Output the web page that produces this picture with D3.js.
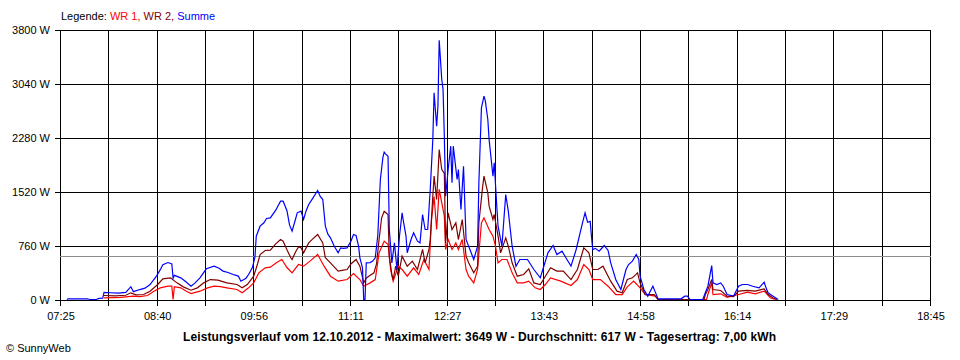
<!DOCTYPE html>
<html><head><meta charset="utf-8">
<script src="https://cdn.jsdelivr.net/npm/d3@7"></script>
<style>
body{margin:0;background:#fff;}
svg{display:block;}
text{font-family:Arial,"Liberation Sans",sans-serif;font-size:11px;fill:#000;}
</style>
</head><body>
<svg id="chart" width="960" height="360"></svg>
<script>
// ---- data ----
const dayStart = "07:25", dayEnd = "18:45";
const xTickLabels = ["07:25","08:40","09:56","11:11","12:27","13:43","14:58","16:14","17:29","18:45"];
const yTickValues = [0, 760, 1520, 2280, 3040, 3800];
const seriesNames = ["WR 1", "WR 2", "Summe"];
const average = 617;
const maxValue = 3649;
const dayYield = "7,00";
const dateLabel = "12.10.2012";

const summeTime = [
"07:30","07:31","07:46","07:48","07:53","07:55","07:58","07:59","08:04","08:10",
"08:16","08:20","08:22","08:27","08:31","08:35","08:40","08:43","08:45","08:49",
"08:52","08:53","08:54","08:59","09:03","09:07","09:10","09:14","09:19","09:25",
"09:29","09:32","09:36","09:40","09:44","09:46","09:50","09:52","09:55","09:57",
"09:58","10:01","10:04","10:06","10:09","10:13","10:17","10:19","10:22","10:24",
"10:26","10:29","10:30","10:33","10:35","10:37","10:39","10:42","10:46","10:48",
"10:50","10:52","10:54","10:56","10:59","11:02","11:04","11:06","11:09","11:12",
"11:14","11:16","11:18","11:19","11:21","11:22","11:23","11:24","11:27","11:29",
"11:31","11:33","11:35","11:37","11:38","11:39","11:41","11:42","11:44","11:46",
"11:48","11:50","11:52","11:53","11:55","11:56","11:59","12:01","12:04","12:06",
"12:08","12:10","12:12","12:14","12:16","12:17","12:19","12:20","12:21","12:23",
"12:24","12:25","12:26","12:28","12:30","12:31","12:32","12:35","12:36","12:38",
"12:40","12:42","12:43","12:45","12:48","12:51","12:52","12:54","12:56","12:57",
"12:59","13:00","13:03","13:04","13:06","13:07","13:10","13:13","13:15","13:18",
"13:21","13:24","13:30","13:35","13:40","13:42","13:46","13:50","13:53","13:57",
"14:00","14:04","14:08","14:13","14:15","14:17","14:19","14:20","14:21","14:23",
"14:26","14:27","14:30","14:33","14:35","14:39","14:43","14:47","14:49","14:52",
"14:55","14:57","14:58","15:01","15:04","15:08","15:10","15:12","15:22","15:30",
"15:33","15:35","15:37","15:47","15:49","15:51","15:54","15:55","15:58","16:01",
"16:03","16:06","16:11","16:15","16:18","16:22","16:26","16:31","16:35","16:36",
"16:38","16:42","16:46"];
const summeValue = [
0,10,10,0,0,15,20,100,95,90,
100,180,110,140,160,210,330,420,490,520,
500,300,340,305,250,187,230,305,432,470,
440,400,380,352,330,258,300,352,450,600,
891,1032,1080,1140,1149,1250,1384,1384,1250,1050,
961,1150,1220,1243,1126,1250,1337,1420,1534,1450,
1407,1032,920,868,750,657,727,720,727,820,
915,900,750,587,450,0,0,516,520,540,
587,900,1689,2000,2073,2050,2017,985,516,797,
422,900,1220,1102,900,657,844,938,821,797,
1196,985,985,1548,2252,2909,2439,2721,3649,3096,
2955,2299,1454,1830,2158,1642,2158,1689,1830,1267,
1876,844,797,704,563,750,1642,2698,2862,2800,
2533,2252,1736,1924,1314,1032,750,1478,1243,750,
469,563,563,422,305,422,657,760,633,680,
587,469,700,1079,1220,1088,1100,891,700,720,
680,700,760,690,520,281,141,422,492,540,
633,563,328,141,47,187,100,10,10,10,
47,47,0,0,94,187,478,234,211,234,
187,70,47,187,211,211,187,164,244,187,
94,47,0];

const wr2Time = [
"07:59","08:08","08:16","08:20","08:24","08:30","08:35","08:41","08:45","08:51",
"08:56","09:01","09:07","09:12","09:17","09:22","09:28","09:35","09:43","09:47",
"09:51","09:56","09:59","10:01","10:05","10:09","10:13","10:17","10:19","10:22",
"10:25","10:26","10:29","10:31","10:33","10:35","10:39","10:42","10:46","10:50",
"10:52","10:56","11:02","11:05","11:09","11:12","11:16","11:19","11:22","11:24",
"11:26","11:30","11:32","11:34","11:36","11:38","11:41","11:42","11:44","11:45",
"11:47","11:49","11:52","11:56","12:00","12:04","12:08","12:10","12:13","12:14",
"12:16","12:17","12:19","12:21","12:23","12:25","12:26","12:28","12:31","12:34",
"12:36","12:39","12:42","12:44","12:48","12:51","12:52","12:55","12:56","12:59",
"13:00","13:03","13:04","13:07","13:09","13:13","13:15","13:18","13:22","13:27",
"13:31","13:35","13:40","13:44","13:48","13:53","13:58","14:04","14:09","14:14",
"14:18","14:21","14:25","14:29","14:35","14:40","14:44","14:48","14:52","14:56",
"14:58","15:02","15:09","15:12","15:48","15:49","15:51","15:54","15:55","16:01",
"16:06","16:11","16:15","16:22","16:28","16:35","16:38","16:42","16:45"];
const wr2Value = [
56,50,60,94,65,70,117,211,291,305,
234,178,131,164,234,281,272,234,211,164,
211,328,500,633,690,694,780,844,821,700,
587,563,680,741,730,657,797,850,915,797,
587,516,399,410,422,500,563,469,234,300,
328,375,500,844,1150,1243,1196,610,350,281,
469,328,610,469,540,422,704,516,704,844,
1454,1736,1407,2111,1830,1776,797,1220,985,1079,
844,1126,610,516,375,469,1079,1595,1736,1501,
1314,1126,1196,891,657,868,750,516,328,352,
432,234,211,328,446,399,399,281,422,727,
657,422,422,469,258,117,94,281,305,375,
234,70,70,0,0,70,141,281,141,127,
47,40,117,127,117,150,70,20,0];

const wr1Time = [
"07:59","08:12","08:22","08:27","08:33","08:38","08:43","08:49","08:52","08:53",
"08:54","08:59","09:03","09:07","09:14","09:20","09:25","09:30","09:35","09:43",
"09:47","09:52","09:56","10:00","10:05","10:09","10:14","10:18","10:22","10:26",
"10:31","10:35","10:40","10:46","10:51","10:56","11:02","11:09","11:14","11:19",
"11:22","11:27","11:31","11:34","11:38","11:41","11:43","11:45","11:49","11:52",
"11:56","12:01","12:05","12:09","12:13","12:15","12:17","12:19","12:21","12:25",
"12:26","12:28","12:31","12:34","12:36","12:39","12:42","12:44","12:48","12:51",
"12:54","12:56","13:00","13:03","13:05","13:07","13:10","13:14","13:18","13:22",
"13:27","13:31","13:36","13:40","13:44","13:48","13:56","14:04","14:09","14:14",
"14:18","14:21","14:27","14:33","14:39","14:44","14:48","14:53","14:58","15:02",
"15:10","15:12","15:50","15:51","15:54","15:55","16:01","16:06","16:15","16:22",
"16:28","16:35","16:40","16:44"];
const wr1Value = [
23,30,47,40,56,117,164,187,187,0,
180,164,120,84,117,164,187,180,164,141,
94,164,234,375,446,455,520,563,450,375,
492,469,540,633,469,328,258,281,366,281,
187,234,281,657,821,774,422,258,469,422,
328,446,352,563,422,1126,1450,985,1550,1173,
704,844,704,797,704,844,422,328,234,422,
1079,1149,985,891,750,516,563,563,375,234,
234,258,164,141,211,305,258,197,281,492,
422,281,281,187,70,70,178,258,164,70,
47,0,0,70,234,70,80,30,70,103,
80,117,20,0];

// ---- drawing ----
const parseT = s => { const [h, m] = s.split(":").map(Number); return h * 60 + m; };
const svg = d3.select("#chart");
const x = d3.scaleLinear().domain([parseT(dayStart), parseT(dayEnd)]).range([60, 930]);
const y = d3.scaleLinear().domain([0, 3800]).range([300, 30]);
const crisp = v => Math.round(v) + 0.5;

const t0 = parseT(dayStart), t1 = parseT(dayEnd);
const gridTimes = d3.range(19).map(i => t0 + i * (t1 - t0) / 18);

// vertical grid
svg.append("g").selectAll("line").data(gridTimes).join("line")
  .attr("x1", d => crisp(x(d))).attr("x2", d => crisp(x(d)))
  .attr("y1", 30).attr("y2", 306)
  .attr("stroke", "#000").attr("shape-rendering", "crispEdges");

// horizontal grid
svg.append("g").selectAll("line").data(yTickValues).join("line")
  .attr("x1", 55).attr("x2", 931)
  .attr("y1", d => crisp(y(d))).attr("y2", d => crisp(y(d)))
  .attr("stroke", "#000").attr("shape-rendering", "crispEdges");

// y labels
svg.append("g").selectAll("text").data(yTickValues).join("text")
  .attr("x", 50).attr("y", d => y(d)).attr("dy", "0.35em")
  .attr("text-anchor", "end").text(d => d + " W");

// x labels
svg.append("g").selectAll("text").data(xTickLabels).join("text")
  .attr("x", (d, i) => x(gridTimes[i * 2]) + 1).attr("y", 320)
  .attr("text-anchor", "middle").text(d => d);

// average line
svg.append("line")
  .attr("x1", 60).attr("x2", 931)
  .attr("y1", crisp(y(average))).attr("y2", crisp(y(average)))
  .attr("stroke", "#8c8c8c").attr("shape-rendering", "crispEdges");

// series
const line = d3.line().x(d => x(parseT(d[0])) + 0.5).y(d => y(d[1]) - 0.5);
const series = [
  {t: wr1Time, v: wr1Value, c: "#ff0000"},
  {t: wr2Time, v: wr2Value, c: "#800000"},
  {t: summeTime, v: summeValue, c: "#0000ff"}
];
series.forEach(s => {
  svg.append("path").datum(s.t.map((t, i) => [t, s.v[i]]))
    .attr("d", line).attr("fill", "none").attr("stroke", s.c).attr("stroke-width", 1.2);
});

// legend
const leg = svg.append("text").attr("x", 61).attr("y", 20);
leg.append("tspan").text("Legende: ");
leg.append("tspan").style("fill", "#ff0000").text(seriesNames[0] + ", ");
leg.append("tspan").style("fill", "#800000").text(seriesNames[1] + ", ");
leg.append("tspan").style("fill", "#0000ff").text(seriesNames[2]);

// title
svg.append("text").attr("x", 183).attr("y", 341)
  .attr("textLength", 593).attr("lengthAdjust", "spacing")
  .style("font-weight", "bold").style("font-size", "12px")
  .text(`Leistungsverlauf vom ${dateLabel} - Maximalwert: ${maxValue} W - Durchschnitt: ${average} W - Tagesertrag: ${dayYield} kWh`);

// copyright
svg.append("text").attr("x", 6).attr("y", 352).style("font-size", "11px").text("© SunnyWeb");
</script>
</body></html>
